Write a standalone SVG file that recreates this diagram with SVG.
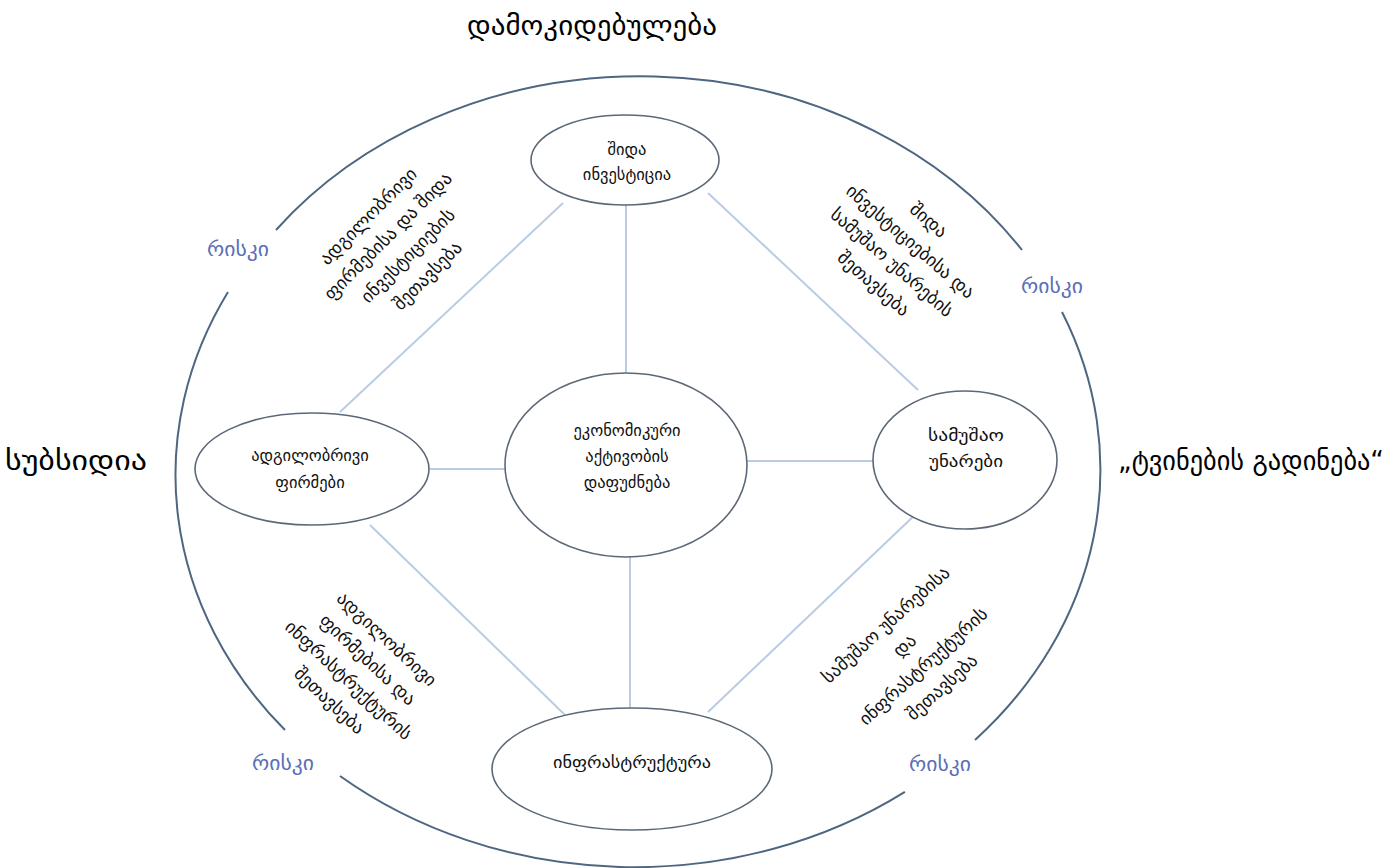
<svg xmlns="http://www.w3.org/2000/svg" width="1394" height="868" viewBox="0 0 1394 868">
<style>
.t{font-family:"DejaVu Sans","Noto Sans",sans-serif;fill:#111;text-anchor:middle}
.big{font-size:27px;fill:#000}
.lbl{font-size:16.5px}
.rot{font-size:18px}
.risk{font-family:"DejaVu Sans","Noto Sans",sans-serif;font-size:19px;fill:#5b6fb8;text-anchor:middle}
.node{fill:#fff;stroke:#5c6878;stroke-width:1.6}
.con{stroke:#b9cce4;stroke-width:2;fill:none}
.arc{stroke:#4e6680;stroke-width:2;fill:none}
</style>
<rect width="1394" height="868" fill="#fff"/>
<g id="outer">
<path class="arc" d="M276,230 A460,394 0 0 1 1022,250"/>
<path class="arc" d="M1062,312 A460,394 0 0 1 975,740"/>
<path class="arc" d="M904.9,791.8 A460,394 0 0 1 340,776"/>
<path class="arc" d="M285,730 A460,394 0 0 1 228,292"/>
</g>
<g id="connectors">
<line class="con" x1="626" y1="205" x2="626" y2="373"/>
<line class="con" x1="430" y1="469" x2="505" y2="469"/>
<line class="con" x1="747" y1="461" x2="873" y2="461"/>
<line class="con" x1="630" y1="557" x2="630" y2="708"/>
<line class="con" x1="563" y1="203" x2="340" y2="412"/>
<line class="con" x1="708" y1="193" x2="918" y2="390"/>
<line class="con" x1="370" y1="525" x2="565" y2="715"/>
<line class="con" x1="918" y1="512" x2="708" y2="712"/>
</g>
<g id="n-top">
<ellipse class="node" cx="625" cy="160" rx="94" ry="45"/>
<text class="t lbl" x="627" y="155">შიდა</text>
<text class="t lbl" x="627" y="180">ინვესტიცია</text>
</g>
<g id="n-left">
<ellipse class="node" cx="312" cy="469" rx="117" ry="56"/>
<text class="t lbl" x="310" y="461">ადგილობრივი</text>
<text class="t lbl" x="310" y="488">ფირმები</text>
</g>
<g id="n-center">
<ellipse class="node" cx="626" cy="465" rx="121" ry="92"/>
<text class="t lbl" x="627" y="436">ეკონომიკური</text>
<text class="t lbl" x="627" y="462">აქტივობის</text>
<text class="t lbl" x="627" y="488">დაფუძნება</text>
</g>
<g id="n-right">
<ellipse class="node" cx="965" cy="460" rx="92" ry="69"/>
<text class="t lbl" x="966" y="441" textLength="76" lengthAdjust="spacingAndGlyphs">სამუშაო</text>
<text class="t lbl" x="966" y="467" textLength="74" lengthAdjust="spacingAndGlyphs">უნარები</text>
</g>
<g id="n-bottom">
<ellipse class="node" cx="632" cy="769" rx="140" ry="61"/>
<text class="t lbl" x="632" y="768" textLength="158" lengthAdjust="spacingAndGlyphs">ინფრასტრუქტურა</text>
</g>
<g id="titles">
<text class="t big" x="592" y="35" textLength="250" lengthAdjust="spacingAndGlyphs">დამოკიდებულება</text>
<text class="t big" x="76" y="470" textLength="142" lengthAdjust="spacingAndGlyphs">სუბსიდია</text>
<text class="t big" x="1251" y="470" textLength="266" lengthAdjust="spacingAndGlyphs">„ტვინების  გადინება“</text>
</g>
<g id="risks">
<text class="risk" x="238" y="256" textLength="62" lengthAdjust="spacingAndGlyphs">რისკი</text>
<text class="risk" x="1052" y="293" textLength="62" lengthAdjust="spacingAndGlyphs">რისკი</text>
<text class="risk" x="283" y="770" textLength="62" lengthAdjust="spacingAndGlyphs">რისკი</text>
<text class="risk" x="940" y="771" textLength="62" lengthAdjust="spacingAndGlyphs">რისკი</text>
</g>
<g id="rot-tl" transform="translate(398,246) rotate(-45)">
<text class="t rot" x="0" y="-36">ადგილობრივი</text>
<text class="t rot" x="0" y="-8">ფირმებისა და შიდა</text>
<text class="t rot" x="0" y="20">ინვესტიციების</text>
<text class="t rot" x="0" y="48">შეთავსება</text>
</g>
<g id="rot-tr" transform="translate(901,252) rotate(41)">
<text class="t rot" x="0" y="-36">შიდა</text>
<text class="t rot" x="0" y="-8">ინვესტიციებისა და</text>
<text class="t rot" x="0" y="20">სამუშაო უნარების</text>
<text class="t rot" x="0" y="48">შეთავსება</text>
</g>
<g id="rot-bl" transform="translate(358,670) rotate(43)">
<text class="t rot" x="0" y="-36">ადგილობრივი</text>
<text class="t rot" x="0" y="-8">ფირმებისა და</text>
<text class="t rot" x="0" y="20">ინფრასტრუქტურის</text>
<text class="t rot" x="0" y="48">შეთავსება</text>
</g>
<g id="rot-br" transform="translate(914,656) rotate(-42)">
<text class="t rot" x="0" y="-36">სამუშაო უნარებისა</text>
<text class="t rot" x="0" y="-8">და</text>
<text class="t rot" x="0" y="20">ინფრასტრუქტურის</text>
<text class="t rot" x="0" y="48">შეთავსება</text>
</g>
</svg>
